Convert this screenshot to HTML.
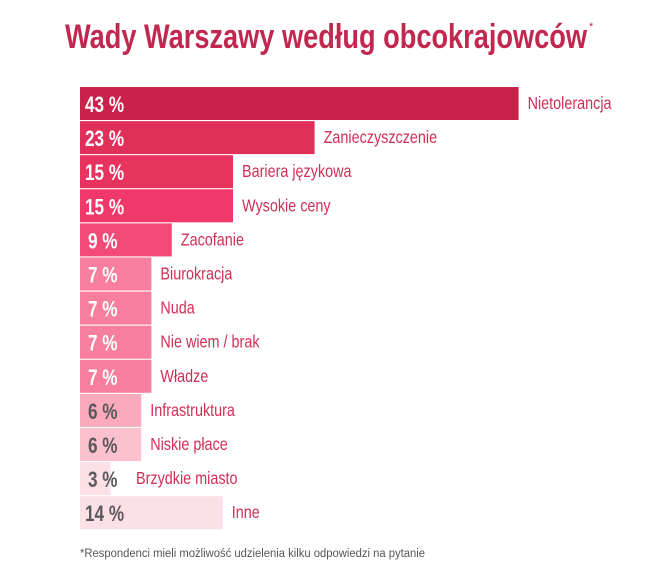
<!DOCTYPE html>
<html><head><meta charset="utf-8"><style>
html,body{margin:0;padding:0;background:#fff;}
svg text{font-family:"Liberation Sans Narrow","Liberation Sans",sans-serif;}
</style></head><body>
<svg id="chart" width="650" height="580" viewBox="0 0 650 580" xmlns="http://www.w3.org/2000/svg">
<text x="65" y="48" font-size="34" font-weight="bold" fill="#c2284f" textLength="522" lengthAdjust="spacingAndGlyphs">Wady Warszawy według obcokrajowców</text>
<text x="589" y="30" font-size="11" fill="#c2284f">*</text>
<g id="bars"></g>
<text x="80" y="557" font-size="11.5" fill="#555" font-family="Liberation Sans, sans-serif" textLength="345" lengthAdjust="spacingAndGlyphs">*Respondenci mieli możliwość udzielenia kilku odpowiedzi na pytanie</text>
</svg>
<script>
const categories=["Nietolerancja","Zanieczyszczenie","Bariera językowa","Wysokie ceny","Zacofanie","Biurokracja","Nuda","Nie wiem / brak","Władze","Infrastruktura","Niskie płace","Brzydkie miasto","Inne"];
const values=[43,23,15,15,9,7,7,7,7,6,6,3,14];
const colors=["#c8214a","#e0305a","#e8335f","#f0386a","#f24a76","#f77e9e","#f77e9e","#f77e9e","#f77e9e","#fbaabd","#fcc0cf","#fde0e7","#fde0e7"];
const x0=80,scale=10.2,top0=87,pitch=34.1,bh=33;
const g=document.getElementById('bars');
const NS="http://www.w3.org/2000/svg";
function xs(v){return v*scale;}
categories.forEach((c,i)=>{
  const y=top0+i*pitch, w=xs(values[i]);
  const r=document.createElementNS(NS,'rect');
  r.setAttribute('x',x0);r.setAttribute('y',y);r.setAttribute('width',w);r.setAttribute('height',bh);r.setAttribute('fill',colors[i]);
  
  
  g.appendChild(r);
  const vt=document.createElementNS(NS,'text');
  vt.setAttribute('transform','translate('+(x0+(values[i]>=10?5:8))+','+(y+25)+') scale(0.78,1)');
  vt.setAttribute('font-size','22');vt.setAttribute('font-weight','bold');
  vt.setAttribute('fill',i>=9?'#5a5a5a':'#fff');
  vt.textContent=values[i]+' %';
  
  
  g.appendChild(vt);
  const lt=document.createElementNS(NS,'text');
  lt.setAttribute('transform','translate('+Math.max(x0+w+9,x0+56)+','+(y+22)+') scale(0.8,1)');
  lt.setAttribute('font-size','18');lt.setAttribute('fill','#d02e55');
  lt.textContent=c;
  
  
  g.appendChild(lt);
});
</script>
</body></html>
